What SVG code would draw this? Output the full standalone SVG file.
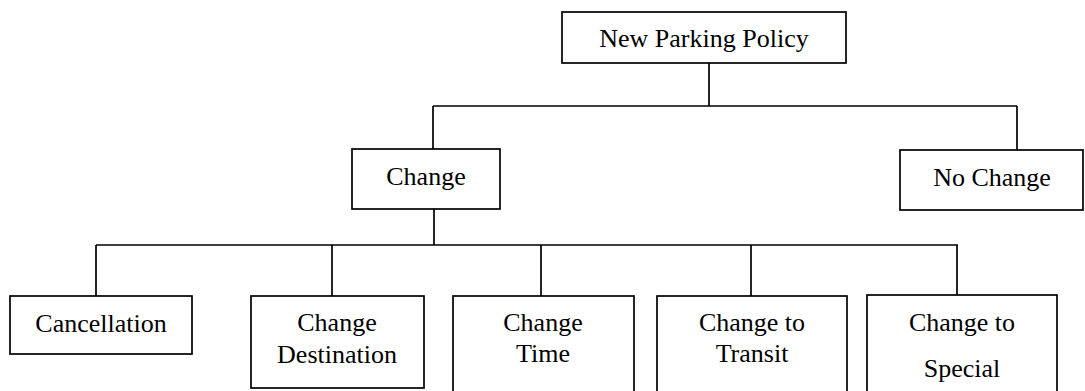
<svg xmlns="http://www.w3.org/2000/svg" width="1085" height="391" viewBox="0 0 1085 391">
<style>
.box{fill:#fff;stroke:#000;stroke-width:1.7}
.ln{fill:none;stroke:#000;stroke-width:1.7}
text{font-family:"Liberation Serif","Times New Roman",serif;font-size:26px;fill:#000;text-anchor:middle}
</style>
<rect width="1085" height="391" fill="#fff"/>
<g id="connectors">
<path class="ln" d="M709,63 V106 M433,106 H1017 M433,106 V149 M1017,106 V150"/>
<path class="ln" d="M434,209 V245 M96,245 H958 M96,245 V296 M332,245 V296 M541,245 V296 M751,245 V296 M957,245 V296"/>
</g>
<g id="n-policy"><rect class="box" x="562" y="12" width="284" height="51"/><text x="704" y="47">New Parking Policy</text></g>
<g id="n-change"><rect class="box" x="352" y="149" width="148" height="60"/><text x="426" y="185">Change</text></g>
<g id="n-nochange"><rect class="box" x="900" y="150" width="183" height="60"/><text x="992" y="186">No Change</text></g>
<g id="n-cancel"><rect class="box" x="10" y="296" width="182" height="58"/><text x="101" y="332">Cancellation</text></g>
<g id="n-dest"><rect class="box" x="251" y="296" width="173" height="92"/><text x="337" y="331">Change</text><text x="337" y="363">Destination</text></g>
<g id="n-time"><rect class="box" x="453" y="296" width="181" height="110"/><text x="543" y="331">Change</text><text x="543" y="362">Time</text></g>
<g id="n-transit"><rect class="box" x="657" y="296" width="190" height="110"/><text x="752" y="331">Change to</text><text x="752" y="362">Transit</text></g>
<g id="n-special"><rect class="box" x="867" y="295" width="190" height="110"/><text x="962" y="331">Change to</text><text x="962" y="377">Special</text></g>
</svg>
